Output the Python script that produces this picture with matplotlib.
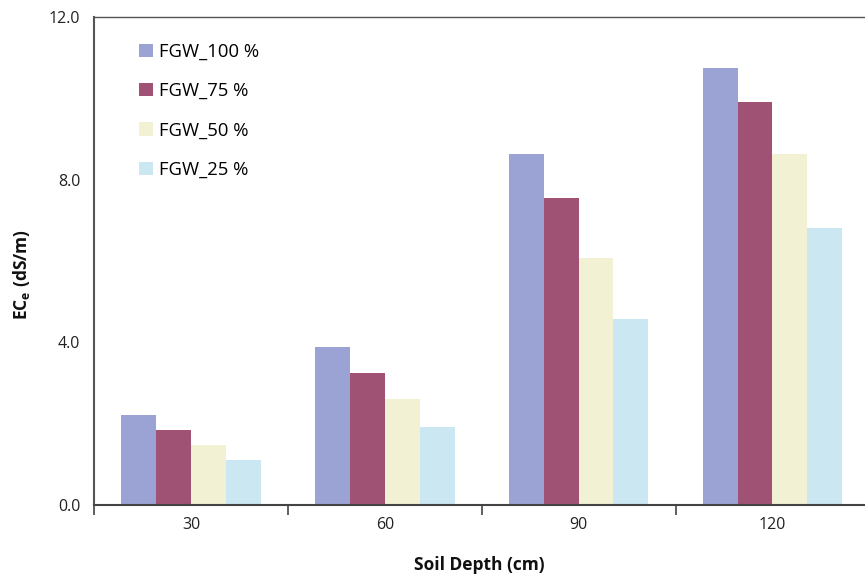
import numpy as np
import matplotlib
matplotlib.use('Agg')
import matplotlib.pyplot as plt

# Data
depths = ['30', '60', '90', '120']
series_labels = ['FGW_100 %', 'FGW_75 %', 'FGW_50 %', 'FGW_25 %']
fgw_100 = [2.21, 3.88, 8.63, 10.75]
fgw_75 = [1.84, 3.25, 7.55, 9.91]
fgw_50 = [1.48, 2.61, 6.07, 8.63]
fgw_25 = [1.11, 1.92, 4.57, 6.81]
colors = ['#9BA3D4', '#A05274', '#F2F1D4', '#CBE8F2']

plt.rcParams['font.family'] = ['Open Sans', 'DejaVu Sans']
plt.rcParams['mathtext.fontset'] = 'custom'
plt.rcParams['mathtext.rm'] = 'Open Sans'
plt.rcParams['mathtext.bf'] = 'Open Sans:bold'

fig = plt.figure(figsize=(8.65, 5.76), dpi=100)
ax = fig.add_axes([0.1087, 0.1233, 0.8963, 0.8472])

x = np.arange(1, len(depths) + 1)
width = 0.18
all_series = [fgw_100, fgw_75, fgw_50, fgw_25]
for i, vals in enumerate(all_series):
    offset = (i - 1.5) * width
    ax.bar(x + offset, vals, width, color=colors[i], label=series_labels[i], linewidth=0)

ax.set_xlim(0.5, len(depths) + 0.5)
ax.set_ylim(0, 12)
ax.set_yticks([0, 4, 8, 12])
ax.set_yticklabels(['0.0', '4.0', '8.0', '12.0'])
ax.tick_params(axis='y', length=0, pad=10, labelsize=11.5, colors='#222222')

ax.set_xticks(x)
ax.set_xticklabels(depths)
ax.set_xticks(np.arange(0.5, len(depths) + 1), minor=True)
ax.tick_params(axis='x', which='major', length=0, pad=9, labelsize=11.5, colors='#222222')
ax.tick_params(axis='x', which='minor', length=7, width=1.2, color='#444444', direction='out')

ax.spines['right'].set_visible(False)
ax.spines['left'].set_color('#555555')
ax.spines['left'].set_linewidth(1.5)
ax.spines['bottom'].set_color('#444444')
ax.spines['bottom'].set_linewidth(1.5)
ax.spines['top'].set_color('#555555')
ax.spines['top'].set_linewidth(1.0)

ax.set_xlabel('Soil Depth (cm)', fontsize=12.5, fontweight='bold', color='#111111')
ax.xaxis.set_label_coords(0.497, -0.104)
ax.set_ylabel(r'EC$_\mathbf{e}$ (dS/m)', fontsize=12.5, fontweight='bold', color='#111111')
ax.yaxis.set_label_coords(-0.08, 0.473)

leg = ax.legend(loc='upper left', bbox_to_anchor=(0.037, 0.981), frameon=False,
                handlelength=0.72, handleheight=0.72, handletextpad=0.35,
                labelspacing=1.15, fontsize=13.3)

fig.savefig('out.png', dpi=100)
